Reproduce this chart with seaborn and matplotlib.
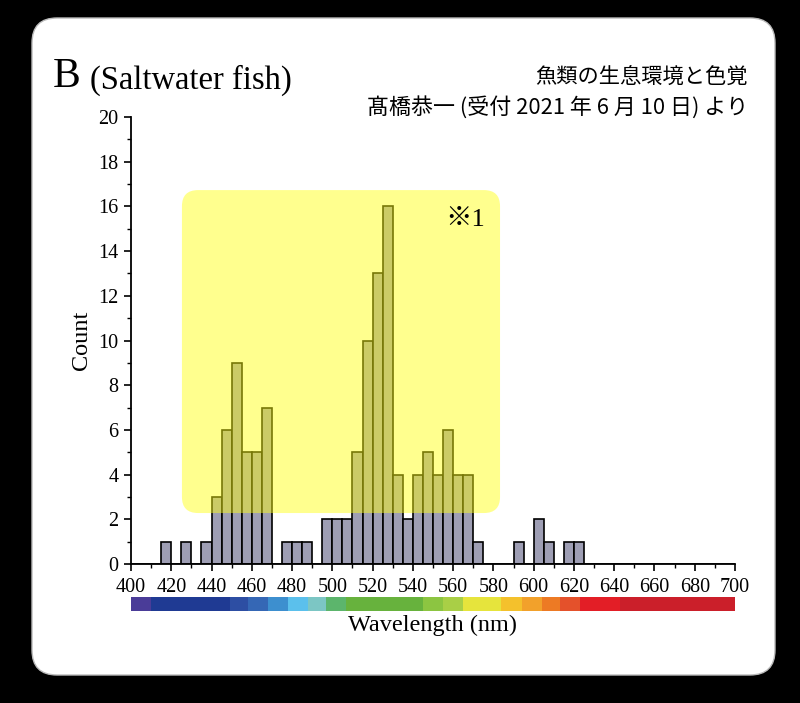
import numpy as np
import pandas as pd
import matplotlib
matplotlib.use("Agg")
import matplotlib.pyplot as plt
import seaborn as sns
from matplotlib.patches import FancyBboxPatch
from matplotlib.transforms import IdentityTransform

# ---- data ----
bin_start = list(range(400, 700, 5))
counts = [0, 0, 0, 1, 0, 1, 0, 1,
          3, 6, 9, 5, 5, 7,
          0, 1, 1, 1, 0,
          2, 2, 2,
          5, 10, 13, 16,
          4, 2, 4, 5, 4, 6, 4, 4, 1,
          0, 0, 0, 1, 0, 2, 1, 0, 1, 1] + [0] * 15
x_ticks = list(range(400, 701, 20))
y_ticks = list(range(0, 21, 2))

# colour bar segments (wavelength boundaries and colours)
cb_edges = [400, 410, 449, 458, 468, 478, 488, 497, 507, 545, 555, 565, 584, 594, 604, 613, 623, 643, 700]
cb_colors = ["#4a3c98", "#1f3a93", "#2d4ea3", "#3567b5", "#3d8fcf", "#5bc0ec", "#7cc6c4",
             "#5cb56c", "#67b23d", "#8cc541", "#a9cf46", "#e6e43c", "#f4c12c", "#f2a12b",
             "#ed7a24", "#e4512b", "#e31e26", "#cb1f2a"]

df = pd.DataFrame({"wl": [b + 2.5 for b in bin_start], "count": counts})

sns.set_theme(style="white")
plt.rcParams["font.family"] = ["Liberation Serif", "Noto Sans CJK JP"]
plt.rcParams["text.color"] = "black"
plt.rcParams["axes.labelcolor"] = "black"

W, H = 800, 703
fig = plt.figure(figsize=(W / 100, H / 100), dpi=100)
fig.patch.set_facecolor("black")

card = FancyBboxPatch((32, 28), 743, 657, boxstyle="round,pad=0,rounding_size=25",
                      transform=IdentityTransform(), facecolor="white",
                      edgecolor="#bbbbbb", linewidth=1, zorder=0)
fig.add_artist(card)

ax = fig.add_axes([131 / W, 139 / H, 604 / W, 447 / H])
ax.set_facecolor("none")

sns.histplot(data=df, x="wl", weights="count", binwidth=5, binrange=(400, 700), ax=ax,
             color="#9e9eb4", edgecolor="black", linewidth=1.2, alpha=1.0, zorder=2)

ax.set_xlim(400, 700)
ax.set_ylim(0, 20)
ax.set_xticks(x_ticks)
ax.set_xticks(list(range(400, 701, 10)), minor=True)
ax.set_yticks(y_ticks)
ax.set_yticks(list(range(0, 21, 1)), minor=True)
ax.tick_params(axis="both", which="major", direction="out", length=5, width=1.2,
               color="black", labelsize=14.5, labelcolor="black", pad=3, bottom=True, left=True)
ax.tick_params(axis="both", which="minor", direction="out", length=3, width=1.0,
               color="black", bottom=True, left=True)
ax.tick_params(axis="x", pad=5)
ax.tick_params(axis="y", pad=4)
for s in ["top", "right"]:
    ax.spines[s].set_visible(False)
for s in ["left", "bottom"]:
    ax.spines[s].set_color("black")
    ax.spines[s].set_linewidth(1.3)
ax.set_xlabel("")
ax.set_ylabel("")

# yellow highlight overlay
xpx = 604 / 300.0
ypx = 447 / 20.0
hl = FancyBboxPatch((425.3, 2.28), 158.0, 14.45,
                    boxstyle="round,pad=0,rounding_size=8",
                    mutation_aspect=xpx / ypx,
                    facecolor="#ffff10", alpha=0.47, edgecolor="none", zorder=5)
ax.add_patch(hl)
ax.text(576, 15.4, "※1", fontsize=19, ha="right", va="center", zorder=6, color="black",
        family=["Liberation Serif", "Noto Sans CJK JP"])

# colour bar
cax = fig.add_axes([131 / W, 92 / H, 604 / W, 14 / H])
for i, c in enumerate(cb_colors):
    cax.axvspan(cb_edges[i], cb_edges[i + 1], color=c, lw=0)
cax.set_xlim(400, 700)
cax.set_ylim(0, 1)
cax.axis("off")

# texts
fig.text(433 / W, 1 - 625 / H, "Wavelength (nm)", fontsize=17.5, ha="center", va="center", color="black")
fig.text(81 / W, 1 - 340 / H, "Count", fontsize=17.5, ha="center", va="center", rotation=90, color="black")
fig.text(53 / W, 1 - 77 / H, "B", fontsize=30, ha="left", va="center", color="black")
fig.text(90 / W, 1 - 80 / H, "(Saltwater fish)", fontsize=23.5, ha="left", va="center", color="black")
fig.text(748 / W, 1 - 77 / H, "魚類の生息環境と色覚", fontsize=15.3, ha="right", va="center",
         color="black", family=["Noto Sans CJK JP", "DejaVu Sans"])
fig.text(748 / W, 1 - 107 / H, "髙橋恭一 (受付 2021 年 6 月 10 日) より", fontsize=15.8,
         ha="right", va="center", color="black", family=["Noto Sans CJK JP", "DejaVu Sans"])

fig.savefig("out.png", dpi=100, facecolor=fig.get_facecolor())
